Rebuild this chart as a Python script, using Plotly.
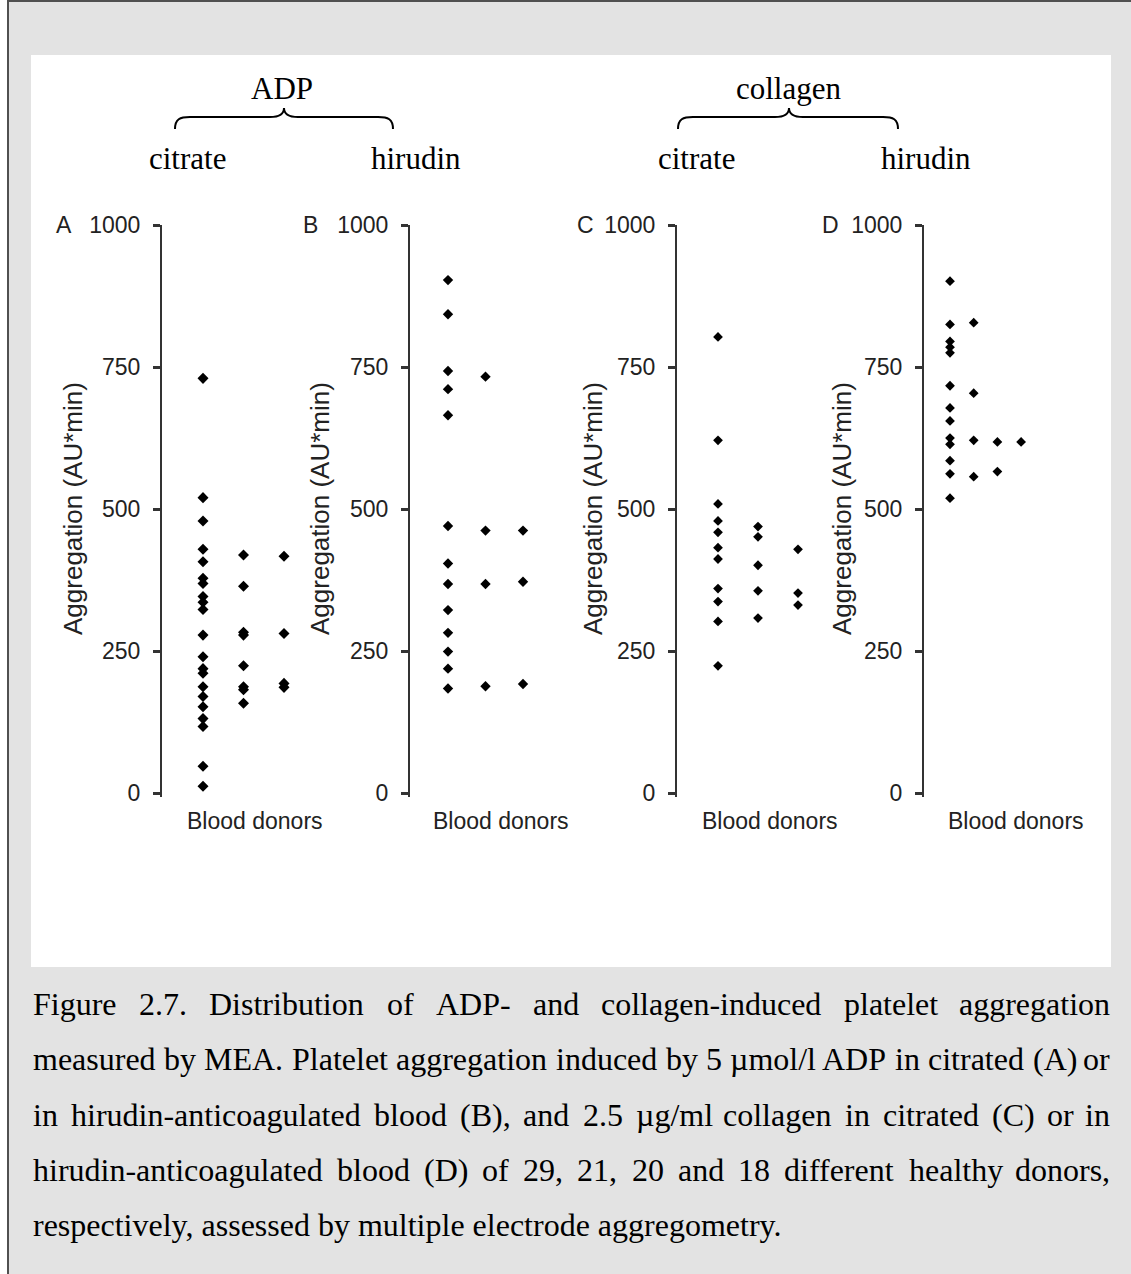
import plotly.graph_objects as go

# ---------------- data ----------------
TICK_VALUES = [0, 250, 500, 750, 1000]
TICK_LABELS = ["0", "250", "500", "750", "1000"]
PANEL_LETTERS = ["A", "B", "C", "D"]
Y_TITLE = "Aggregation (AU*min)"
X_TITLE = "Blood donors"

# Panel A: ADP, citrate  (dot columns spread horizontally)
A_col1 = [730, 520, 479, 429, 407, 378, 369, 346, 336, 323, 278, 240, 219, 211, 187, 170, 152, 131, 117, 47, 12]
A_col2 = [419, 364, 283, 278, 224, 187, 182, 158]
A_col3 = [417, 281, 193, 186]
# Panel B: ADP, hirudin
B_col1 = [903, 843, 743, 711, 665, 470, 404, 368, 322, 282, 249, 219, 184]
B_col2 = [733, 462, 368, 188]
B_col3 = [462, 372, 192]
# Panel C: collagen, citrate
C_col1 = [803, 621, 509, 479, 459, 432, 412, 360, 337, 302, 224]
C_col2 = [469, 451, 401, 356, 308]
C_col3 = [429, 352, 331]
# Panel D: collagen, hirudin
D_col1 = [901, 825, 795, 785, 775, 717, 678, 655, 625, 614, 585, 562, 519]
D_col2 = [828, 704, 621, 557]
D_col3 = [618, 566]
D_col4 = [618]

PANELS = [
    [A_col1, A_col2, A_col3],
    [B_col1, B_col2, B_col3],
    [C_col1, C_col2, C_col3],
    [D_col1, D_col2, D_col3, D_col4],
]

GROUP_LABELS = ["ADP", "collagen"]
SUB_LABELS = ["citrate", "hirudin", "citrate", "hirudin"]

CAPTION_LINES = [
    "Figure 2.7. Distribution of ADP- and collagen-induced platelet aggregation",
    "measured by MEA. Platelet aggregation induced by 5 \u00b5mol/l ADP in citrated (A) or",
    "in hirudin-anticoagulated blood (B), and 2.5 \u00b5g/ml collagen in citrated (C) or in",
    "hirudin-anticoagulated blood (D) of 29, 21, 20 and 18 different healthy donors,",
    "respectively, assessed by multiple electrode aggregometry.",
]
CAPTION_JUSTIFIED = [True, True, True, True, False]

# ---------------- layout geometry (pixels) ----------------
W, H = 1131, 1274
def px(x):
    return x / W
def py(y):
    return 1 - y / H

AXIS_X = [162, 410, 677, 924]          # y-axis line position
AXIS_RIGHT = [345, 590, 860, 1100]
COL_OFFSET = [41, 38, 41, 26]          # distance from axis to first dot column
COL_SPACING = [40.5, 37.5, 40, 23.7]
MARKER_SIZE = [8.5, 8, 7.5, 7.5]
Y_TOP, Y_BOT = 225, 797               # 1000 at 225 px, axis bottom at 797 px
Y_RANGE = [-7, 1000]
LETTER_X = [64, 310, 585, 830]
YTITLE_X = [73, 320, 593, 842]
XTITLE_X = [255, 501, 770, 1016]

AXIS_FONT = "Arial, Liberation Sans, sans-serif"
SERIF = "Times New Roman, Liberation Serif, serif"
INK = "#222222"

fig = go.Figure()

for i, cols in enumerate(PANELS):
    n = i + 1
    xa = "x" if n == 1 else f"x{n}"
    ya = "y" if n == 1 else f"y{n}"
    for k, vals in enumerate(cols):
        fig.add_trace(go.Scatter(
            x=[k + 1] * len(vals), y=vals, mode="markers",
            marker=dict(symbol="diamond", size=MARKER_SIZE[i], color="black",
                        line=dict(width=0)),
            xaxis=xa, yaxis=ya, showlegend=False, hoverinfo="y",
        ))
    r0 = 1 - COL_OFFSET[i] / COL_SPACING[i]
    r1 = r0 + (AXIS_RIGHT[i] - AXIS_X[i]) / COL_SPACING[i]
    xkey = "xaxis" if n == 1 else f"xaxis{n}"
    ykey = "yaxis" if n == 1 else f"yaxis{n}"
    fig.layout[xkey] = dict(domain=[px(AXIS_X[i]), px(AXIS_RIGHT[i])], range=[r0, r1],
                            visible=False, anchor=ya, automargin=False)
    fig.layout[ykey] = dict(domain=[py(Y_BOT), py(Y_TOP)], range=Y_RANGE, anchor=xa,
                            automargin=False,
                            showline=True, linecolor="#333333", linewidth=2,
                            ticks="outside", ticklen=7, tickwidth=3, tickcolor="#333333",
                            tickvals=TICK_VALUES, ticktext=TICK_LABELS,
                            tickfont=dict(family=AXIS_FONT, size=23, color=INK),
                            showgrid=False, zeroline=False, ticklabelstandoff=8)

annotations = []
def ann(x, y, text, size, family, color=INK, xanchor="center", yanchor="middle", angle=0):
    annotations.append(dict(x=px(x), y=py(y), xref="paper", yref="paper", text=text,
                            showarrow=False, xanchor=xanchor, yanchor=yanchor,
                            textangle=angle, borderpad=0,
                            font=dict(family=family, size=size, color=color)))

for i in range(4):
    ann(LETTER_X[i], Y_TOP, PANEL_LETTERS[i], 23, AXIS_FONT)
    ann(YTITLE_X[i], 509, Y_TITLE, 26, AXIS_FONT, angle=-90)
    ann(XTITLE_X[i], 821, X_TITLE, 23, AXIS_FONT)

# group labels and braces
ann(282, 89, GROUP_LABELS[0], 31, SERIF, color="black")
ann(789, 89, GROUP_LABELS[1], 31, SERIF, color="black")
for x, t in zip([187, 416, 696, 926], SUB_LABELS):
    ann(x, 158, t, 31, SERIF, color="black")

def brace(xl, xt, xr, yb=129, yh=117, yt=108):
    pts = f"M {px(xl)},{py(yb)} C {px(xl)},{py(yh+2)} {px(xl+5)},{py(yh)} {px(xl+15)},{py(yh)} " \
          f"L {px(xt-14)},{py(yh)} C {px(xt-5)},{py(yh)} {px(xt)},{py(yh-3)} {px(xt)},{py(yt)} " \
          f"C {px(xt)},{py(yh-3)} {px(xt+5)},{py(yh)} {px(xt+14)},{py(yh)} " \
          f"L {px(xr-15)},{py(yh)} C {px(xr-5)},{py(yh)} {px(xr)},{py(yh+2)} {px(xr)},{py(yb)}"
    return dict(type="path", path=pts, xref="paper", yref="paper",
                line=dict(color="black", width=2))

# caption with justified lines
TW = {' ': 250, '!': 333, '(': 333, ')': 333, ',': 250, '-': 333, '.': 250, '/': 278, ':': 278,
      'A': 722, 'B': 667, 'C': 667, 'D': 722, 'E': 611, 'F': 556, 'G': 722, 'H': 722, 'I': 333,
      'J': 389, 'K': 722, 'L': 611, 'M': 889, 'N': 722, 'O': 722, 'P': 556, 'Q': 722, 'R': 667,
      'S': 556, 'T': 611, 'U': 722, 'V': 722, 'W': 944, 'X': 722, 'Y': 722, 'Z': 611,
      'a': 444, 'b': 500, 'c': 444, 'd': 500, 'e': 444, 'f': 333, 'g': 500, 'h': 500, 'i': 278,
      'j': 278, 'k': 500, 'l': 278, 'm': 778, 'n': 500, 'o': 500, 'p': 500, 'q': 500, 'r': 333,
      's': 389, 't': 278, 'u': 500, 'v': 500, 'w': 722, 'x': 500, 'y': 500, 'z': 444, '\u00b5': 500}
CAP_SIZE = 32
CAP_L, CAP_R = 32, 1111
CAP_Y0, CAP_DY = 1004, 55.3

def wwidth(w):
    return sum(TW.get(c, 500) for c in w) / 1000 * CAP_SIZE

for li, (line, just) in enumerate(zip(CAPTION_LINES, CAPTION_JUSTIFIED)):
    y = CAP_Y0 + li * CAP_DY
    if not just:
        ann(CAP_L, y, line, CAP_SIZE, SERIF, color="black", xanchor="left")
        continue
    words = line.split(" ")
    widths = [wwidth(w) for w in words]
    gap = (CAP_R - CAP_L - sum(widths)) / (len(words) - 1)
    x = CAP_L
    for j, (w, ww) in enumerate(zip(words, widths)):
        if j == len(words) - 1:
            ann(CAP_R, y, w, CAP_SIZE, SERIF, color="black", xanchor="right")
        else:
            ann(x, y, w, CAP_SIZE, SERIF, color="black", xanchor="left")
        x += ww + gap

shapes = [
    dict(type="rect", xref="paper", yref="paper", x0=px(8), x1=px(1140), y0=py(1), y1=py(1290),
         fillcolor="#e3e3e3", line=dict(color="#505050", width=2), layer="below"),
    dict(type="rect", xref="paper", yref="paper", x0=px(31), x1=px(1111), y0=py(55), y1=py(967),
         fillcolor="white", line=dict(width=0), layer="below"),
    brace(175, 284, 393),
    brace(678, 789, 898),
]

fig.update_layout(template="none", width=W, height=H, autosize=False,
                  margin=dict(l=0, r=0, t=0, b=0, pad=0),
                  paper_bgcolor="white", plot_bgcolor="rgba(0,0,0,0)",
                  annotations=annotations, shapes=shapes, showlegend=False)

fig.write_html("out.html")
